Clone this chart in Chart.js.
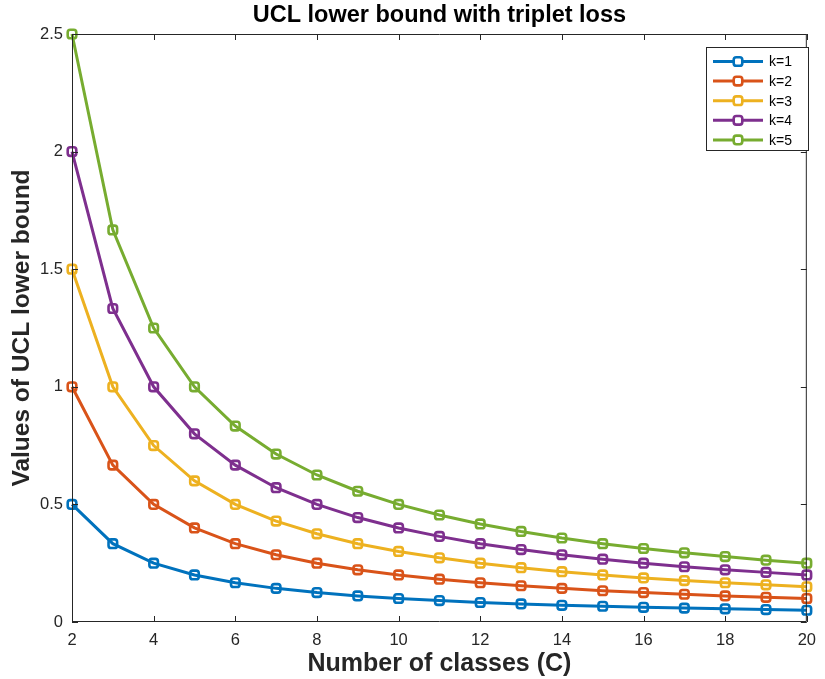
<!DOCTYPE html>
<html>
<head>
<meta charset="utf-8">
<script src="https://cdn.jsdelivr.net/npm/chart.js@4/dist/chart.umd.min.js"></script>
<style>
  html, body { margin: 0; padding: 0; background: #fff; }
  #wrap { width: 825px; height: 679px; }
</style>
</head>
<body>
<div id="wrap"><canvas id="c" width="825" height="679"></canvas></div>
<script>
const classes = [2,3,4,5,6,7,8,9,10,11,12,13,14,15,16,17,18,19,20];
const k1 = [0.5,0.333,0.25,0.2,0.167,0.143,0.125,0.111,0.1,0.091,0.083,0.077,0.071,0.067,0.0625,0.059,0.056,0.053,0.05];
const k2 = [1,0.667,0.5,0.4,0.333,0.286,0.25,0.222,0.2,0.182,0.167,0.154,0.143,0.133,0.125,0.118,0.111,0.105,0.1];
const k3 = [1.5,1,0.75,0.6,0.5,0.429,0.375,0.333,0.3,0.273,0.25,0.231,0.214,0.2,0.1875,0.176,0.167,0.158,0.15];
const k4 = [2,1.333,1,0.8,0.667,0.571,0.5,0.444,0.4,0.364,0.333,0.308,0.286,0.267,0.25,0.235,0.222,0.211,0.2];
const k5 = [2.5,1.667,1.25,1,0.833,0.714,0.625,0.556,0.5,0.455,0.417,0.385,0.357,0.333,0.3125,0.294,0.278,0.263,0.25];
const seriesLabels = ['k=1','k=2','k=3','k=4','k=5'];
const seriesColors = ['#0072BD','#D95319','#EDB120','#7E2F8E','#77AC30'];
const xTicks = [2,4,6,8,10,12,14,16,18,20];
const yTicks = [0,0.5,1,1.5,2,2.5];
const yTickLabels = ['0','0.5','1','1.5','2','2.5'];

const allSeries = [k1,k2,k3,k4,k5];
const FONT = '"Liberation Sans", Arial, Helvetica, sans-serif';
const AX = '#262626';

const datasets = allSeries.map((vals, i) => ({
  label: seriesLabels[i],
  data: vals.map((v, j) => ({x: classes[j], y: v})),
  borderColor: seriesColors[i],
  backgroundColor: '#ffffff',
  pointBorderColor: seriesColors[i],
  pointBackgroundColor: 'rgba(255,255,255,0)',
  borderWidth: 3,
  pointStyle: 'rectRounded',
  pointRadius: 5,
  pointBorderWidth: 2.6,
  pointHoverRadius: 5,
  tension: 0,
  clip: false
}));

const boxPlugin = {
  id: 'matlabBox',
  afterDatasetsDraw(chart) {
    const ctx = chart.ctx;
    const a = chart.chartArea;
    const xs = chart.scales.x, ys = chart.scales.y;
    ctx.save();
    ctx.strokeStyle = AX;
    ctx.lineWidth = 1;
    ctx.beginPath();
    ctx.rect(a.left + 0.5, a.top + 0.5, a.right - a.left - 1, a.bottom - a.top - 1);
    ctx.stroke();
    const tl = 6;
    ctx.beginPath();
    xTicks.forEach(t => {
      const px = Math.round(xs.getPixelForValue(t)) + 0.5;
      ctx.moveTo(px, a.bottom); ctx.lineTo(px, a.bottom - tl);
      ctx.moveTo(px, a.top); ctx.lineTo(px, a.top + tl);
    });
    yTicks.forEach(t => {
      const py = Math.round(ys.getPixelForValue(t)) + 0.5;
      ctx.moveTo(a.left, py); ctx.lineTo(a.left + tl, py);
      ctx.moveTo(a.right, py); ctx.lineTo(a.right - tl, py);
    });
    ctx.stroke();
    ctx.restore();
  },
  afterDraw(chart) {
    const ctx = chart.ctx;
    const bx = 706.5, by = 47.5, bw = 102, bh = 103;
    ctx.save();
    ctx.fillStyle = '#ffffff';
    ctx.fillRect(bx, by, bw, bh);
    ctx.strokeStyle = AX;
    ctx.lineWidth = 1;
    ctx.strokeRect(bx, by, bw, bh);
    chart.data.datasets.forEach((ds, i) => {
      const y = 61.5 + i * 19.6;
      ctx.strokeStyle = ds.borderColor;
      ctx.lineWidth = 3;
      ctx.beginPath();
      ctx.moveTo(713, y); ctx.lineTo(763, y);
      ctx.stroke();
      ctx.lineWidth = 2.6;
      ctx.fillStyle = '#ffffff';
      Chart.helpers.drawPoint(ctx, {pointStyle: 'rectRounded', radius: 5, rotation: 0, borderWidth: 2.6}, 738, y);
      ctx.fillStyle = '#000';
      ctx.font = '14px ' + FONT;
      ctx.textBaseline = 'middle';
      ctx.textAlign = 'left';
      ctx.fillText(ds.label, 769, y + 1);
    });
    ctx.restore();
  }
};

new Chart(document.getElementById('c'), {
  type: 'line',
  data: { datasets },
  options: {
    responsive: false,
    animation: false,
    devicePixelRatio: 1,
    layout: { padding: { left: 0, right: 9, top: 0, bottom: 0 } },
    plugins: {
      legend: { display: false },
      tooltip: { enabled: false },
      title: {
        display: true,
        fullSize: false,
        text: 'UCL lower bound with triplet loss',
        color: '#000',
        font: { family: FONT, size: 23.5, weight: 'bold', lineHeight: 1.2 },
        padding: { top: 1, bottom: 4.8 }
      }
    },
    scales: {
      x: {
        type: 'linear',
        min: 2, max: 20,
        afterBuildTicks: s => { s.ticks = xTicks.map(v => ({value: v})); },
        afterFit: s => { s.height = 57; },
        grid: { display: false, drawTicks: false },
        border: { display: false },
        ticks: { color: AX, padding: 9, font: { family: FONT, size: 16.5 }, maxRotation: 0 },
        title: {
          display: true, text: 'Number of classes (C)', color: '#262626',
          font: { family: FONT, size: 25, weight: 'bold' }, padding: { top: 0, bottom: 0 }
        }
      },
      y: {
        type: 'linear',
        min: 0, max: 2.5,
        afterBuildTicks: s => { s.ticks = yTicks.map(v => ({value: v})); },
        afterFit: s => { s.width = 72; },
        grid: { display: false, drawTicks: false },
        border: { display: false },
        ticks: {
          color: AX, padding: 9, font: { family: FONT, size: 16.5 },
          callback: (v) => { const i = yTicks.indexOf(v); return i >= 0 ? yTickLabels[i] : ''; }
        },
        title: {
          display: true, text: 'Values of UCL lower bound', color: '#262626',
          font: { family: FONT, size: 24.5, weight: 'bold' }, padding: { top: 8, bottom: 0 }
        }
      }
    }
  },
  plugins: [boxPlugin]
});
</script>
</body>
</html>
